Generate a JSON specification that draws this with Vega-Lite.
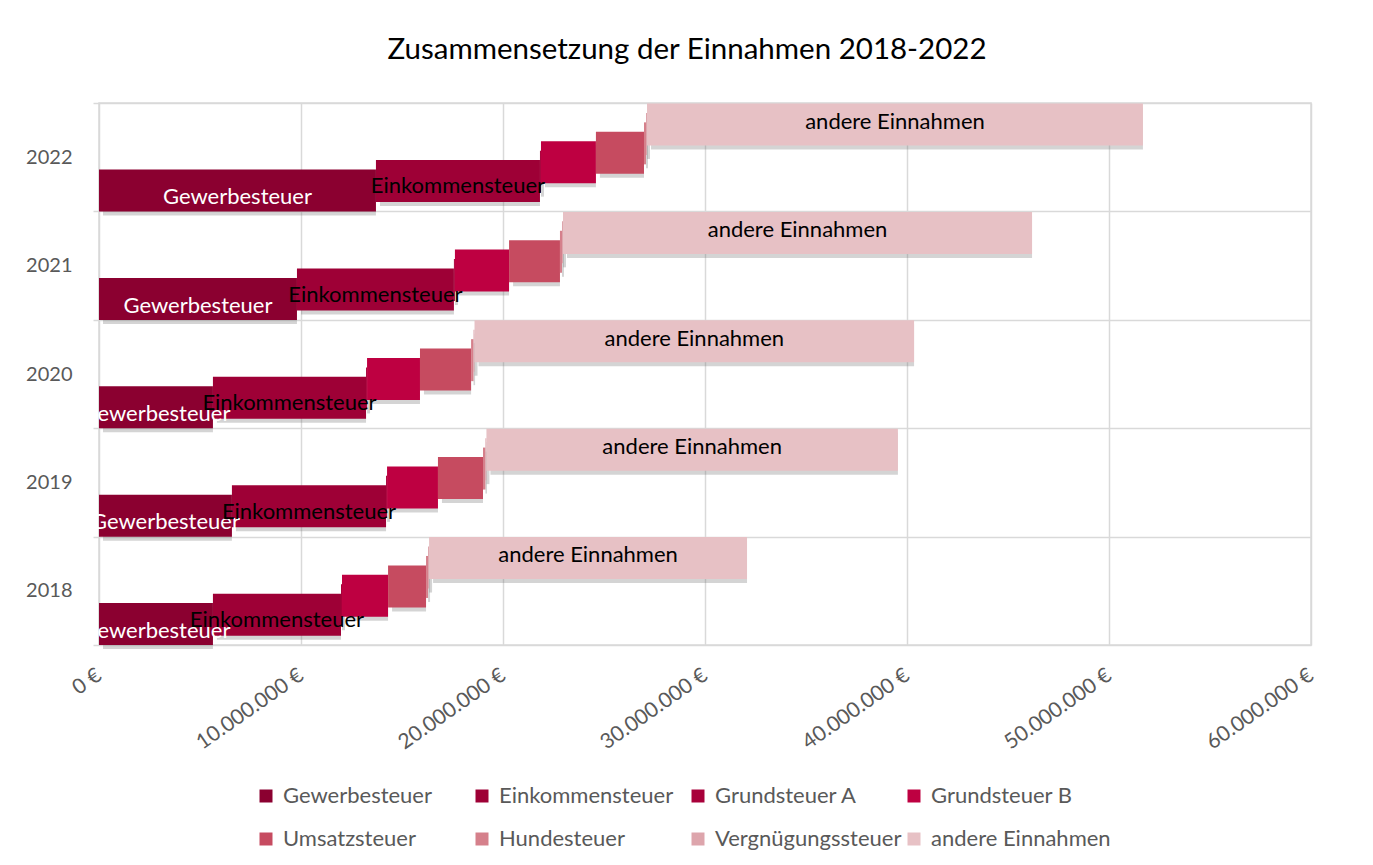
{
  "$schema": "https://vega.github.io/schema/vega-lite/v6.json",
  "width": 1212,
  "height": 542,
  "autosize": {"type": "none"},
  "padding": {"left": 99, "top": 103, "right": 62, "bottom": 220},
  "background": "white",
  "config": {
    "font": "Lato",
    "locale": {"number": {"decimal": ",", "thousands": ".", "grouping": [3], "currency": ["", " €"]}},
    "view": {"stroke": "#D9D9D9", "strokeWidth": 1.5}
  },
  "title": {
    "text": "Zusammensetzung der Einnahmen 2018-2022",
    "fontSize": 29.5,
    "fontWeight": "normal",
    "color": "#000000",
    "font": "Lato",
    "offset": 28,
    "dx": -18
  },
  "data": {
    "values": [
      {"year": "2022", "series": "Gewerbesteuer", "k": 1, "value": 13710000},
      {"year": "2022", "series": "Einkommensteuer", "k": 2, "value": 8120000},
      {"year": "2022", "series": "Grundsteuer A", "k": 3, "value": 50000},
      {"year": "2022", "series": "Grundsteuer B", "k": 4, "value": 2720000},
      {"year": "2022", "series": "Umsatzsteuer", "k": 5, "value": 2380000},
      {"year": "2022", "series": "Hundesteuer", "k": 6, "value": 100000},
      {"year": "2022", "series": "Vergnügungssteuer", "k": 7, "value": 50000},
      {"year": "2022", "series": "andere Einnahmen", "k": 8, "value": 24550000},
      {"year": "2021", "series": "Gewerbesteuer", "k": 1, "value": 9800000},
      {"year": "2021", "series": "Einkommensteuer", "k": 2, "value": 7770000},
      {"year": "2021", "series": "Grundsteuer A", "k": 3, "value": 50000},
      {"year": "2021", "series": "Grundsteuer B", "k": 4, "value": 2680000},
      {"year": "2021", "series": "Umsatzsteuer", "k": 5, "value": 2520000},
      {"year": "2021", "series": "Hundesteuer", "k": 6, "value": 100000},
      {"year": "2021", "series": "Vergnügungssteuer", "k": 7, "value": 50000},
      {"year": "2021", "series": "andere Einnahmen", "k": 8, "value": 23220000},
      {"year": "2020", "series": "Gewerbesteuer", "k": 1, "value": 5640000},
      {"year": "2020", "series": "Einkommensteuer", "k": 2, "value": 7580000},
      {"year": "2020", "series": "Grundsteuer A", "k": 3, "value": 50000},
      {"year": "2020", "series": "Grundsteuer B", "k": 4, "value": 2620000},
      {"year": "2020", "series": "Umsatzsteuer", "k": 5, "value": 2530000},
      {"year": "2020", "series": "Hundesteuer", "k": 6, "value": 120000},
      {"year": "2020", "series": "Vergnügungssteuer", "k": 7, "value": 50000},
      {"year": "2020", "series": "andere Einnahmen", "k": 8, "value": 21760000},
      {"year": "2019", "series": "Gewerbesteuer", "k": 1, "value": 6580000},
      {"year": "2019", "series": "Einkommensteuer", "k": 2, "value": 7630000},
      {"year": "2019", "series": "Grundsteuer A", "k": 3, "value": 50000},
      {"year": "2019", "series": "Grundsteuer B", "k": 4, "value": 2520000},
      {"year": "2019", "series": "Umsatzsteuer", "k": 5, "value": 2230000},
      {"year": "2019", "series": "Hundesteuer", "k": 6, "value": 120000},
      {"year": "2019", "series": "Vergnügungssteuer", "k": 7, "value": 50000},
      {"year": "2019", "series": "andere Einnahmen", "k": 8, "value": 20370000},
      {"year": "2018", "series": "Gewerbesteuer", "k": 1, "value": 5640000},
      {"year": "2018", "series": "Einkommensteuer", "k": 2, "value": 6340000},
      {"year": "2018", "series": "Grundsteuer A", "k": 3, "value": 50000},
      {"year": "2018", "series": "Grundsteuer B", "k": 4, "value": 2280000},
      {"year": "2018", "series": "Umsatzsteuer", "k": 5, "value": 1880000},
      {"year": "2018", "series": "Hundesteuer", "k": 6, "value": 100000},
      {"year": "2018", "series": "Vergnügungssteuer", "k": 7, "value": 50000},
      {"year": "2018", "series": "andere Einnahmen", "k": 8, "value": 15740000}
    ]
  },
  "transform": [
    {"stack": "value", "groupby": ["year"], "sort": [{"field": "k", "order": "ascending"}], "as": ["v0", "v1"]},
    {"calculate": "(datum.v0 + datum.v1) / 2", "as": "mid"}
  ],
  "encoding": {
    "y": {
      "field": "year",
      "type": "nominal",
      "sort": "descending",
      "scale": {"paddingInner": 0, "paddingOuter": 0},
      "axis": {
        "title": null,
        "domain": false,
        "tickBand": "extent",
        "grid": true,
        "gridColor": "#D9D9D9",
        "gridWidth": 1.5,
        "ticks": true,
        "tickSize": 6,
        "tickColor": "#D9D9D9",
        "tickWidth": 1.5,
        "labelFontSize": 20,
        "labelColor": "#595959",
        "labelPadding": 21
      }
    },
    "x": {
      "field": "v0",
      "type": "quantitative",
      "scale": {"domain": [0, 60000000], "nice": false},
      "axis": {
        "title": null,
        "values": [0, 10000000, 20000000, 30000000, 40000000, 50000000, 60000000],
        "format": "$,.0f",
        "grid": true,
        "gridColor": "#D9D9D9",
        "gridWidth": 1.5,
        "domain": false,
        "ticks": false,
        "labelAngle": -35,
        "labelAlign": "right",
        "labelBaseline": "middle",
        "labelFontSize": 21,
        "labelColor": "#595959",
        "labelPadding": 28
      }
    }
  },
  "layer": [
    {
      "mark": {"type": "bar", "height": 42, "color": "#707070", "opacity": 0.3, "xOffset": 4},
      "encoding": {
        "x2": {"field": "v1"},
        "yOffset": {
          "field": "series",
          "scale": {
            "domain": ["andere Einnahmen", "Vergnügungssteuer", "Hundesteuer", "Umsatzsteuer", "Grundsteuer B", "Grundsteuer A", "Einkommensteuer", "Gewerbesteuer"],
            "range": [20.8, 96.2],
            "paddingInner": 0, "paddingOuter": 0
          }
        }
      }
    },
    {
      "mark": {"type": "bar", "height": 42},
      "encoding": {
        "x2": {"field": "v1"},
        "yOffset": {
          "field": "series",
          "scale": {
            "domain": ["andere Einnahmen", "Vergnügungssteuer", "Hundesteuer", "Umsatzsteuer", "Grundsteuer B", "Grundsteuer A", "Einkommensteuer", "Gewerbesteuer"],
            "range": [16.8, 92.2],
            "paddingInner": 0, "paddingOuter": 0
          }
        },
        "color": {
          "field": "series",
          "type": "nominal",
          "scale": {
            "domain": ["Gewerbesteuer", "Einkommensteuer", "Grundsteuer A", "Grundsteuer B", "Umsatzsteuer", "Hundesteuer", "Vergnügungssteuer", "andere Einnahmen"],
            "range": ["#8B0030", "#9E0036", "#A8003A", "#BE0041", "#C64B60", "#D5808B", "#DDA5AC", "#E7C1C5"]
          },
          "legend": {
            "orient": "none",
            "legendX": 156,
            "legendY": 682,
            "direction": "horizontal",
            "columns": 4,
            "gridAlign": "all",
            "title": null,
            "symbolType": "square",
            "symbolSize": 169,
            "symbolStrokeWidth": 0,
            "symbolOpacity": 1,
            "labelFontSize": 22,
            "labelColor": "#595959",
            "labelOffset": 6,
            "columnPadding": 1,
            "rowPadding": 21,
            "labelLimit": 300
          }
        }
      }
    },
    {
      "transform": [{"filter": {"field": "series", "oneOf": ["Gewerbesteuer", "Einkommensteuer", "andere Einnahmen"]}}],
      "mark": {"type": "text", "fontSize": 22, "font": "Lato"},
      "encoding": {
        "x": {"field": "mid", "type": "quantitative"},
        "yOffset": {
          "field": "series",
          "scale": {
            "domain": ["andere Einnahmen", "Vergnügungssteuer", "Hundesteuer", "Umsatzsteuer", "Grundsteuer B", "Grundsteuer A", "Einkommensteuer", "Gewerbesteuer"],
            "range": [18.8, 94.2],
            "paddingInner": 0, "paddingOuter": 0
          }
        },
        "text": {"field": "series"},
        "color": {"condition": {"test": "datum.series === 'Gewerbesteuer'", "value": "#FFFFFF"}, "value": "#000000"}
      }
    }
  ],
  "resolve": {"scale": {"yOffset": "independent"}}
}
